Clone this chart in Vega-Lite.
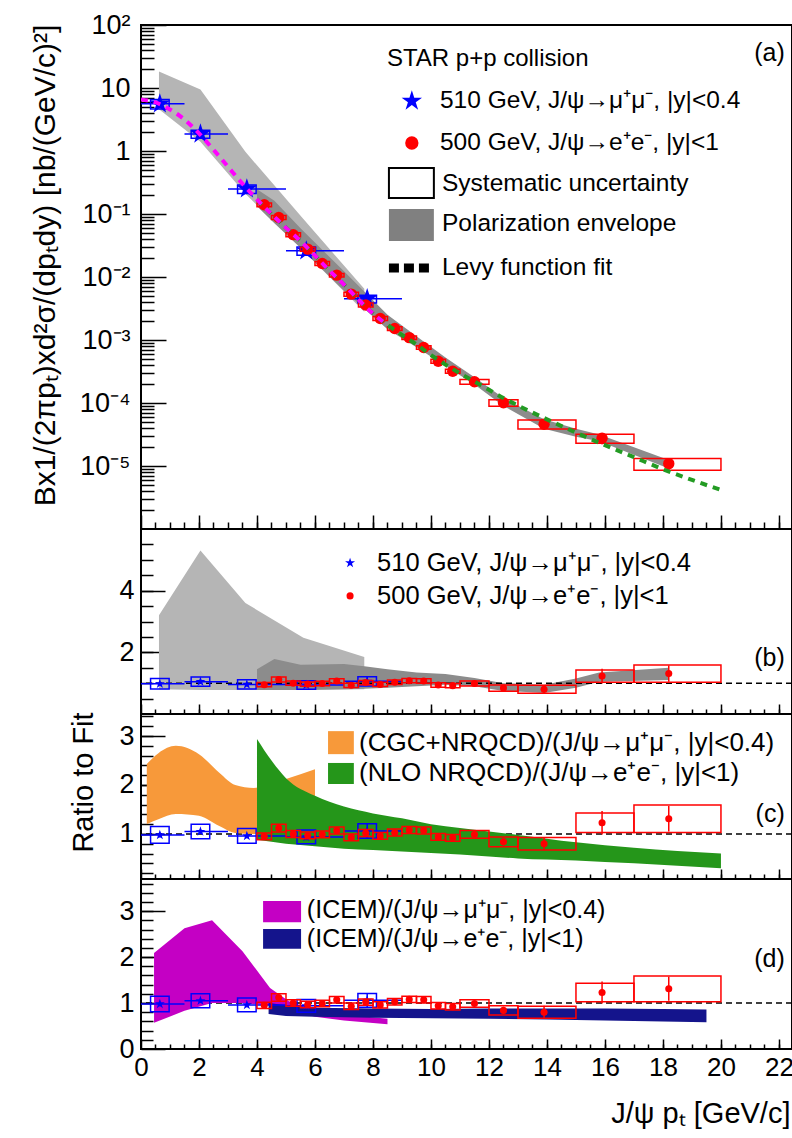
{
"$schema": "https://vega.github.io/schema/vega-lite/v6.json",
"background": "white",
"padding": {"left": 28, "top": 10, "right": 2, "bottom": 4},
"spacing": 0,
"bounds": "flush",
"config": {
  "view": {"stroke": "black", "strokeWidth": 2},
  "axis": {"grid": false, "domain": false, "labelFont": "Liberation Sans", "titleFont": "Liberation Sans", "labelColor": "black", "titleColor": "black", "tickColor": "black", "tickWidth": 1.5, "labelFlush": false, "labelOverlap": false, "labelBound": false, "titleFontWeight": "normal"},
  "text": {"font": "Liberation Sans", "color": "black"}
},
"datasets": {
  "blue": [
    {"pt":0.65,"xlo":0,"xhi":1.5,"bxlo":0.33,"bxhi":0.97,"y":5.6,"ylo":5.32,"yhi":5.88,"bylo":4.63,"byhi":6.57,"r":0.98,"rslo":0.93,"rshi":1.03,"brlo":0.81,"brhi":1.15},
    {"pt":2.05,"xlo":1.5,"xhi":3,"bxlo":1.73,"bxhi":2.37,"y":1.86,"ylo":1.77,"yhi":1.95,"bylo":1.59,"byhi":2.13,"r":1.05,"rslo":1.0,"rshi":1.1,"brlo":0.9,"brhi":1.2},
    {"pt":3.65,"xlo":3,"xhi":5,"bxlo":3.33,"bxhi":3.97,"y":0.25,"ylo":0.237,"yhi":0.263,"bylo":0.211,"byhi":0.289,"r":0.96,"rslo":0.91,"rshi":1.01,"brlo":0.81,"brhi":1.11},
    {"pt":5.7,"xlo":5,"xhi":7,"bxlo":5.38,"bxhi":6.02,"y":0.026,"ylo":0.0241,"yhi":0.0279,"bylo":0.0221,"byhi":0.0299,"r":0.94,"rslo":0.87,"rshi":1.01,"brlo":0.8,"brhi":1.08},
    {"pt":7.8,"xlo":7,"xhi":9,"bxlo":7.48,"bxhi":8.12,"y":0.0045,"ylo":0.00387,"yhi":0.00513,"bylo":0.00386,"byhi":0.00514,"r":1.06,"rslo":0.91,"rshi":1.21,"brlo":0.91,"brhi":1.21}
  ],
  "red": [
    {"pt":4.25,"bxlo":4.0,"bxhi":4.5,"y":0.14,"ylo":0.134,"yhi":0.146,"bylo":0.130,"byhi":0.150,"r":0.95,"rslo":0.91,"rshi":0.99,"brlo":0.88,"brhi":1.02},
    {"pt":4.75,"bxlo":4.5,"bxhi":5.0,"y":0.088,"ylo":0.0848,"yhi":0.0912,"bylo":0.0817,"byhi":0.0943,"r":1.12,"rslo":1.08,"rshi":1.16,"brlo":1.04,"brhi":1.2},
    {"pt":5.25,"bxlo":5.0,"bxhi":5.5,"y":0.047,"ylo":0.0451,"yhi":0.0489,"bylo":0.0437,"byhi":0.0503,"r":1.0,"rslo":0.96,"rshi":1.04,"brlo":0.93,"brhi":1.07},
    {"pt":5.75,"bxlo":5.5,"bxhi":6.0,"y":0.0277,"ylo":0.0266,"yhi":0.0288,"bylo":0.0257,"byhi":0.0297,"r":0.97,"rslo":0.93,"rshi":1.01,"brlo":0.9,"brhi":1.04},
    {"pt":6.25,"bxlo":6.0,"bxhi":6.5,"y":0.0164,"ylo":0.0157,"yhi":0.0171,"bylo":0.0152,"byhi":0.0176,"r":0.99,"rslo":0.95,"rshi":1.03,"brlo":0.92,"brhi":1.06},
    {"pt":6.75,"bxlo":6.5,"bxhi":7.0,"y":0.0107,"ylo":0.0103,"yhi":0.0111,"bylo":0.0100,"byhi":0.0114,"r":1.07,"rslo":1.03,"rshi":1.11,"brlo":1.0,"brhi":1.14},
    {"pt":7.25,"bxlo":7.0,"bxhi":7.5,"y":0.00535,"ylo":0.00512,"yhi":0.00558,"bylo":0.00495,"byhi":0.00575,"r":0.93,"rslo":0.89,"rshi":0.97,"brlo":0.86,"brhi":1.0},
    {"pt":7.75,"bxlo":7.5,"bxhi":8.0,"y":0.0036,"ylo":0.00346,"yhi":0.00374,"bylo":0.00335,"byhi":0.00385,"r":1.02,"rslo":0.98,"rshi":1.06,"brlo":0.95,"brhi":1.09},
    {"pt":8.25,"bxlo":8.0,"bxhi":8.5,"y":0.0022,"ylo":0.00211,"yhi":0.00229,"bylo":0.00204,"byhi":0.00236,"r":0.96,"rslo":0.92,"rshi":1.0,"brlo":0.89,"brhi":1.03},
    {"pt":8.75,"bxlo":8.5,"bxhi":9.0,"y":0.00152,"ylo":0.00146,"yhi":0.00158,"bylo":0.00142,"byhi":0.00162,"r":1.03,"rslo":0.99,"rshi":1.07,"brlo":0.96,"brhi":1.1},
    {"pt":9.25,"bxlo":9.0,"bxhi":9.5,"y":0.00109,"ylo":0.00105,"yhi":0.00113,"bylo":0.00102,"byhi":0.00116,"r":1.08,"rslo":1.04,"rshi":1.12,"brlo":1.01,"brhi":1.15},
    {"pt":9.75,"bxlo":9.5,"bxhi":10.0,"y":0.00076,"ylo":0.000724,"yhi":0.000796,"bylo":0.000711,"byhi":0.000809,"r":1.07,"rslo":1.02,"rshi":1.12,"brlo":1.0,"brhi":1.14},
    {"pt":10.25,"bxlo":10.0,"bxhi":10.5,"y":0.00046,"ylo":0.000436,"yhi":0.000484,"bylo":0.000426,"byhi":0.000494,"r":0.94,"rslo":0.89,"rshi":0.99,"brlo":0.87,"brhi":1.01},
    {"pt":10.75,"bxlo":10.5,"bxhi":11.0,"y":0.00032,"ylo":0.000296,"yhi":0.000344,"bylo":0.000296,"byhi":0.000344,"r":0.92,"rslo":0.85,"rshi":0.99,"brlo":0.85,"brhi":0.99},
    {"pt":11.5,"bxlo":11.0,"bxhi":12.0,"y":0.000217,"ylo":0.000204,"yhi":0.00023,"bylo":0.000199,"byhi":0.000235,"r":0.99,"rslo":0.93,"rshi":1.05,"brlo":0.91,"brhi":1.07},
    {"pt":12.5,"bxlo":12.0,"bxhi":13.0,"y":0.000101,"ylo":0.0000914,"yhi":0.0001106,"bylo":0.000089,"byhi":0.000113,"r":0.84,"rslo":0.76,"rshi":0.92,"brlo":0.74,"brhi":0.94},
    {"pt":13.9,"bxlo":13.0,"bxhi":15.0,"y":0.000046,"ylo":0.000038,"yhi":0.000054,"bylo":0.0000385,"byhi":0.0000535,"r":0.8,"rslo":0.66,"rshi":0.94,"brlo":0.67,"brhi":0.93},
    {"pt":15.9,"bxlo":15.0,"bxhi":17.0,"y":0.0000275,"ylo":0.0000221,"yhi":0.0000329,"bylo":0.000023,"byhi":0.000032,"r":1.23,"rslo":0.99,"rshi":1.47,"brlo":1.03,"brhi":1.43},
    {"pt":18.2,"bxlo":17.0,"bxhi":20.0,"y":0.0000109,"ylo":0.0000087,"yhi":0.0000131,"bylo":0.0000086,"byhi":0.0000132,"r":1.31,"rslo":1.05,"rshi":1.57,"brlo":1.03,"brhi":1.59}
  ],
  "fitmu": [
    {"pt":0,"v":6.6},{"pt":0.5,"v":5.89},{"pt":1,"v":4.57},{"pt":1.5,"v":3.16},{"pt":2,"v":1.91},{"pt":2.5,"v":1.05},{"pt":3,"v":0.562},{"pt":3.5,"v":0.302},{"pt":4,"v":0.17},{"pt":4.5,"v":0.1},{"pt":5,"v":0.0603},{"pt":5.5,"v":0.0372},{"pt":6,"v":0.0219},{"pt":6.5,"v":0.0126},{"pt":7,"v":0.00759},{"pt":7.5,"v":0.00437},{"pt":8,"v":0.00263},{"pt":8.5,"v":0.00174}
  ],
  "fitee": [
    {"pt":4,"v":0.17},{"pt":4.5,"v":0.1},{"pt":5,"v":0.0603},{"pt":5.5,"v":0.0372},{"pt":6,"v":0.0219},{"pt":6.5,"v":0.0126},{"pt":7,"v":0.00759},{"pt":7.5,"v":0.00437},{"pt":8,"v":0.00263},{"pt":8.5,"v":0.00174},{"pt":9,"v":0.0012},{"pt":9.5,"v":0.000851},{"pt":10,"v":0.000575},{"pt":10.5,"v":0.000407},{"pt":11,"v":0.000295},{"pt":11.5,"v":0.000219},{"pt":12,"v":0.000162},{"pt":12.5,"v":0.00012},{"pt":13,"v":0.0000912},{"pt":14,"v":0.000055},{"pt":15,"v":0.0000339},{"pt":16,"v":0.0000214},{"pt":17,"v":0.0000138},{"pt":18,"v":0.0000089},{"pt":19,"v":0.000006},{"pt":20,"v":0.00000417}
  ],
  "envmu": [
    {"pt":0.62,"lo":4.6,"hi":18.2},{"pt":2.05,"lo":1.4,"hi":9.5},{"pt":3.6,"lo":0.21,"hi":0.97},{"pt":5.6,"lo":0.026,"hi":0.083},{"pt":7.7,"lo":0.0028,"hi":0.0065}
  ],
  "envee": [
    {"pt":4.0,"lo":0.133,"hi":0.247},{"pt":4.6,"lo":0.0711,"hi":0.162},{"pt":5.5,"lo":0.029,"hi":0.0595},{"pt":7.0,"lo":0.00607,"hi":0.0123},{"pt":7.7,"lo":0.00312,"hi":0.00589},{"pt":8.5,"lo":0.00148,"hi":0.00252},{"pt":9.5,"lo":0.000766,"hi":0.00115},{"pt":10.5,"lo":0.000387,"hi":0.000529},{"pt":11.5,"lo":0.000197,"hi":0.000256},{"pt":12.5,"lo":0.00009,"hi":0.00012},{"pt":13.9,"lo":0.000039,"hi":0.000055},{"pt":15.0,"lo":0.000029,"hi":0.000039},{"pt":15.8,"lo":0.0000246,"hi":0.0000316},{"pt":18.2,"lo":0.0000091,"hi":0.0000125}
  ],
  "renvmu": [
    {"pt":0.62,"lo":0.8,"hi":3.2},{"pt":2.05,"lo":0.78,"hi":5.3},{"pt":3.6,"lo":0.78,"hi":3.6},{"pt":5.6,"lo":0.78,"hi":2.47},{"pt":7.7,"lo":0.8,"hi":1.85}
  ],
  "renvee": [
    {"pt":4.0,"lo":0.78,"hi":1.45},{"pt":4.6,"lo":0.78,"hi":1.78},{"pt":5.5,"lo":0.78,"hi":1.6},{"pt":7.0,"lo":0.8,"hi":1.62},{"pt":7.7,"lo":0.82,"hi":1.55},{"pt":8.5,"lo":0.85,"hi":1.45},{"pt":9.5,"lo":0.9,"hi":1.35},{"pt":10.5,"lo":0.95,"hi":1.3},{"pt":11.5,"lo":0.9,"hi":1.17},{"pt":12.5,"lo":0.75,"hi":1.0},{"pt":13.9,"lo":0.68,"hi":0.95},{"pt":15.0,"lo":0.85,"hi":1.15},{"pt":15.8,"lo":1.05,"hi":1.35},{"pt":18.2,"lo":1.1,"hi":1.5}
  ],
  "cgc": [
    {"pt":0.2,"lo":1.2,"hi":2.43},{"pt":0.6,"lo":1.3,"hi":2.65},{"pt":1.2,"lo":1.41,"hi":2.8},{"pt":2.0,"lo":1.37,"hi":2.63},{"pt":2.7,"lo":1.16,"hi":2.25},{"pt":3.25,"lo":1.02,"hi":2.0},{"pt":3.9,"lo":1.0,"hi":1.94},{"pt":5.0,"lo":1.05,"hi":2.12},{"pt":6.0,"lo":1.2,"hi":2.32}
  ],
  "nlo": [
    {"pt":4.0,"lo":0.88,"hi":2.94},{"pt":4.5,"lo":0.84,"hi":2.5},{"pt":5,"lo":0.8,"hi":2.14},{"pt":6,"lo":0.75,"hi":1.78},{"pt":7,"lo":0.7,"hi":1.56},{"pt":8,"lo":0.67,"hi":1.42},{"pt":9,"lo":0.64,"hi":1.32},{"pt":10,"lo":0.61,"hi":1.2},{"pt":11,"lo":0.58,"hi":1.12},{"pt":12,"lo":0.54,"hi":1.05},{"pt":13,"lo":0.5,"hi":0.98},{"pt":15,"lo":0.46,"hi":0.83},{"pt":17,"lo":0.4,"hi":0.72},{"pt":20,"lo":0.3,"hi":0.6}
  ],
  "icemmu": [
    {"pt":0.45,"lo":0.57,"hi":2.09},{"pt":1.5,"lo":0.83,"hi":2.63},{"pt":2.45,"lo":1.0,"hi":2.8},{"pt":3.5,"lo":1.0,"hi":2.13},{"pt":4.45,"lo":0.95,"hi":1.33},{"pt":5.1,"lo":0.85,"hi":1.04},{"pt":6.0,"lo":0.7,"hi":0.85},{"pt":7.0,"lo":0.62,"hi":0.75},{"pt":8.5,"lo":0.54,"hi":0.66}
  ],
  "icemee": [
    {"pt":4.4,"lo":0.76,"hi":1.0},{"pt":5.0,"lo":0.72,"hi":0.95},{"pt":6.0,"lo":0.7,"hi":0.9},{"pt":8.0,"lo":0.68,"hi":0.88},{"pt":10.0,"lo":0.67,"hi":0.87},{"pt":12.0,"lo":0.66,"hi":0.88},{"pt":14.0,"lo":0.64,"hi":0.88},{"pt":16.0,"lo":0.62,"hi":0.88},{"pt":18.0,"lo":0.6,"hi":0.87},{"pt":19.5,"lo":0.58,"hi":0.86}
  ]
},
"vconcat": [
{
  "width": 651, "height": 504,
  "resolve": {"axis": {"x": "independent", "y": "independent"}},
  "layer": [
    {"data": {"name": "envmu"}, "mark": {"type": "area", "color": "#b5b5b5", "clip": true},
     "encoding": {
       "x": {"field": "pt", "type": "quantitative", "scale": {"domain": [0, 22.45], "nice": false, "zero": false},
             "axis": {"orient": "bottom", "values": [0,2,4,6,8,10,12,14,16,18,20,22], "labels": false, "tickSize": -14, "title": null}},
       "y": {"field": "lo", "type": "quantitative", "scale": {"type": "log", "domain": [0.000001, 100], "nice": false},
             "axis": {"orient": "left", "values": [0.00001,0.0001,0.001,0.01,0.1,1,10,100],
                      "labelExpr": "['10⁻⁵','10⁻⁴','10⁻³','10⁻²','10⁻¹','1','10','10²'][round(log(datum.value)/LN10)+5]",
                      "tickSize": -25, "labelPadding": 36, "labelFontSize": 27,
                      "title": "Bx1/(2πpₜ)xd²σ/(dpₜdy) [nb/(GeV/c)²]", "titleFontSize": 30, "titleX": -87, "titleY": 240,
                      "titleAlign": "center", "titleBaseline": "alphabetic", "titleAngle": -90}},
       "y2": {"field": "hi"}}},
    {"data": {"name": "envee"}, "mark": {"type": "area", "color": "#8c8c8c", "clip": true},
     "encoding": {
       "x": {"field": "pt", "type": "quantitative", "scale": {"domain": [0, 22.45], "nice": false, "zero": false},
             "axis": {"orient": "bottom", "values": [0.5,1,1.5,2,2.5,3,3.5,4,4.5,5,5.5,6,6.5,7,7.5,8,8.5,9,9.5,10,10.5,11,11.5,12,12.5,13,13.5,14,14.5,15,15.5,16,16.5,17,17.5,18,18.5,19,19.5,20,20.5,21,21.5,22], "labels": false, "tickSize": -7, "title": null}},
       "y": {"field": "lo", "type": "quantitative", "scale": {"type": "log", "domain": [0.000001, 100], "nice": false},
             "axis": {"orient": "left", "values": [2e-6,3e-6,4e-6,5e-6,6e-6,7e-6,8e-6,9e-6,2e-5,3e-5,4e-5,5e-5,6e-5,7e-5,8e-5,9e-5,0.0002,0.0003,0.0004,0.0005,0.0006,0.0007,0.0008,0.0009,0.002,0.003,0.004,0.005,0.006,0.007,0.008,0.009,0.02,0.03,0.04,0.05,0.06,0.07,0.08,0.09,0.2,0.3,0.4,0.5,0.6,0.7,0.8,0.9,2,3,4,5,6,7,8,9,20,30,40,50,60,70,80,90], "labels": false, "tickSize": -13, "title": null}},
       "y2": {"field": "hi"}}},
    {"data": {"name": "blue"}, "mark": {"type": "rect", "fillOpacity": 0, "stroke": "#0000ff", "strokeWidth": 1.5},
     "encoding": {
       "x": {"field": "bxlo", "type": "quantitative", "scale": {"domain": [0, 22.45], "nice": false, "zero": false}, "axis": null},
       "x2": {"field": "bxhi"},
       "y": {"field": "bylo", "type": "quantitative", "scale": {"type": "log", "domain": [0.000001, 100], "nice": false}, "axis": null},
       "y2": {"field": "byhi"}}},
    {"data": {"name": "blue"}, "mark": {"type": "rule", "color": "#0000ff", "strokeWidth": 1.5},
     "encoding": {
       "x": {"field": "xlo", "type": "quantitative", "scale": {"domain": [0, 22.45], "nice": false, "zero": false}, "axis": null},
       "x2": {"field": "xhi"},
       "y": {"field": "y", "type": "quantitative", "scale": {"type": "log", "domain": [0.000001, 100], "nice": false}, "axis": null}}},
    {"data": {"name": "blue"}, "mark": {"type": "rule", "color": "#0000ff", "strokeWidth": 1.5},
     "encoding": {
       "x": {"field": "pt", "type": "quantitative", "scale": {"domain": [0, 22.45], "nice": false, "zero": false}, "axis": null},
       "y": {"field": "ylo", "type": "quantitative", "scale": {"type": "log", "domain": [0.000001, 100], "nice": false}, "axis": null},
       "y2": {"field": "yhi"}}},
    {"data": {"name": "blue"}, "mark": {"type": "point", "shape": "M0,-1L0.2245,-0.309L0.951,-0.309L0.363,0.118L0.588,0.809L0,0.382L-0.588,0.809L-0.363,0.118L-0.951,-0.309L-0.2245,-0.309Z", "filled": true, "color": "#0000ff", "size": 460, "opacity": 1},
     "encoding": {
       "x": {"field": "pt", "type": "quantitative", "scale": {"domain": [0, 22.45], "nice": false, "zero": false}, "axis": null},
       "y": {"field": "y", "type": "quantitative", "scale": {"type": "log", "domain": [0.000001, 100], "nice": false}, "axis": null}}},
    {"data": {"name": "red"}, "mark": {"type": "rect", "fillOpacity": 0, "stroke": "#ff0000", "strokeWidth": 1.5},
     "encoding": {
       "x": {"field": "bxlo", "type": "quantitative", "scale": {"domain": [0, 22.45], "nice": false, "zero": false}, "axis": null},
       "x2": {"field": "bxhi"},
       "y": {"field": "bylo", "type": "quantitative", "scale": {"type": "log", "domain": [0.000001, 100], "nice": false}, "axis": null},
       "y2": {"field": "byhi"}}},
    {"data": {"name": "red"}, "mark": {"type": "rule", "color": "#ff0000", "strokeWidth": 2},
     "encoding": {
       "x": {"field": "pt", "type": "quantitative", "scale": {"domain": [0, 22.45], "nice": false, "zero": false}, "axis": null},
       "y": {"field": "ylo", "type": "quantitative", "scale": {"type": "log", "domain": [0.000001, 100], "nice": false}, "axis": null},
       "y2": {"field": "yhi"}}},
    {"data": {"name": "red"}, "mark": {"type": "circle", "color": "#ff0000", "size": 130, "opacity": 1},
     "encoding": {
       "x": {"field": "pt", "type": "quantitative", "scale": {"domain": [0, 22.45], "nice": false, "zero": false}, "axis": null},
       "y": {"field": "y", "type": "quantitative", "scale": {"type": "log", "domain": [0.000001, 100], "nice": false}, "axis": null}}},
    {"data": {"name": "fitee"}, "mark": {"type": "line", "color": "#239b23", "strokeWidth": 4, "strokeDash": [7, 6], "interpolate": "monotone", "clip": true},
     "encoding": {
       "x": {"field": "pt", "type": "quantitative", "scale": {"domain": [0, 22.45], "nice": false, "zero": false}, "axis": null},
       "y": {"field": "v", "type": "quantitative", "scale": {"type": "log", "domain": [0.000001, 100], "nice": false}, "axis": null}}},
    {"data": {"name": "fitmu"}, "mark": {"type": "line", "color": "#ff00ff", "strokeWidth": 4, "strokeDash": [7, 6], "interpolate": "monotone", "clip": true},
     "encoding": {
       "x": {"field": "pt", "type": "quantitative", "scale": {"domain": [0, 22.45], "nice": false, "zero": false}, "axis": null},
       "y": {"field": "v", "type": "quantitative", "scale": {"type": "log", "domain": [0.000001, 100], "nice": false}, "axis": null}}},
    {"data": {"values": [{"t": "STAR p+p collision"}]}, "mark": {"type": "text", "align": "left", "baseline": "middle", "fontSize": 24},
     "encoding": {"x": {"datum": 8.48, "type": "quantitative", "scale": {"domain": [0, 22.45], "nice": false, "zero": false}, "axis": null},
                  "y": {"datum": 28.9, "type": "quantitative", "scale": {"type": "log", "domain": [0.000001, 100], "nice": false}, "axis": null},
                  "text": {"field": "t"}}},
    {"data": {"values": [{"t": "(a)"}]}, "mark": {"type": "text", "align": "right", "baseline": "middle", "fontSize": 25},
     "encoding": {"x": {"datum": 22.2, "type": "quantitative", "scale": {"domain": [0, 22.45], "nice": false, "zero": false}, "axis": null},
                  "y": {"datum": 36, "type": "quantitative", "scale": {"type": "log", "domain": [0.000001, 100], "nice": false}, "axis": null},
                  "text": {"field": "t"}}},
    {"data": {"values": [{"t": "star"}]}, "mark": {"type": "point", "shape": "M0,-1L0.2245,-0.309L0.951,-0.309L0.363,0.118L0.588,0.809L0,0.382L-0.588,0.809L-0.363,0.118L-0.951,-0.309L-0.2245,-0.309Z", "filled": true, "color": "#0000ff", "size": 460, "opacity": 1},
     "encoding": {"x": {"datum": 9.34, "type": "quantitative", "scale": {"domain": [0, 22.45], "nice": false, "zero": false}, "axis": null},
                  "y": {"datum": 6.22, "type": "quantitative", "scale": {"type": "log", "domain": [0.000001, 100], "nice": false}, "axis": null}}},
    {"data": {"values": [{"t": "510 GeV, J/ψ→μ⁺μ⁻, |y|<0.4"}]}, "mark": {"type": "text", "align": "left", "baseline": "middle", "fontSize": 24.5},
     "encoding": {"x": {"datum": 10.31, "type": "quantitative", "scale": {"domain": [0, 22.45], "nice": false, "zero": false}, "axis": null},
                  "y": {"datum": 6.22, "type": "quantitative", "scale": {"type": "log", "domain": [0.000001, 100], "nice": false}, "axis": null},
                  "text": {"field": "t"}}},
    {"data": {"values": [{"t": "dot"}]}, "mark": {"type": "circle", "color": "#ff0000", "size": 177, "opacity": 1},
     "encoding": {"x": {"datum": 9.34, "type": "quantitative", "scale": {"domain": [0, 22.45], "nice": false, "zero": false}, "axis": null},
                  "y": {"datum": 1.34, "type": "quantitative", "scale": {"type": "log", "domain": [0.000001, 100], "nice": false}, "axis": null}}},
    {"data": {"values": [{"t": "500 GeV, J/ψ→e⁺e⁻, |y|<1"}]}, "mark": {"type": "text", "align": "left", "baseline": "middle", "fontSize": 24.5},
     "encoding": {"x": {"datum": 10.31, "type": "quantitative", "scale": {"domain": [0, 22.45], "nice": false, "zero": false}, "axis": null},
                  "y": {"datum": 1.34, "type": "quantitative", "scale": {"type": "log", "domain": [0.000001, 100], "nice": false}, "axis": null},
                  "text": {"field": "t"}}},
    {"data": {"values": [{"t": "box"}]}, "mark": {"type": "rect", "fillOpacity": 0, "stroke": "black", "strokeWidth": 2},
     "encoding": {"x": {"datum": 8.55, "type": "quantitative", "scale": {"domain": [0, 22.45], "nice": false, "zero": false}, "axis": null},
                  "x2": {"datum": 10.1},
                  "y": {"datum": 0.179, "type": "quantitative", "scale": {"type": "log", "domain": [0.000001, 100], "nice": false}, "axis": null},
                  "y2": {"datum": 0.537}}},
    {"data": {"values": [{"t": "Systematic uncertainty"}]}, "mark": {"type": "text", "align": "left", "baseline": "middle", "fontSize": 24.5},
     "encoding": {"x": {"datum": 10.38, "type": "quantitative", "scale": {"domain": [0, 22.45], "nice": false, "zero": false}, "axis": null},
                  "y": {"datum": 0.299, "type": "quantitative", "scale": {"type": "log", "domain": [0.000001, 100], "nice": false}, "axis": null},
                  "text": {"field": "t"}}},
    {"data": {"values": [{"t": "grey"}]}, "mark": {"type": "rect", "color": "#808080"},
     "encoding": {"x": {"datum": 8.55, "type": "quantitative", "scale": {"domain": [0, 22.45], "nice": false, "zero": false}, "axis": null},
                  "x2": {"datum": 10.1},
                  "y": {"datum": 0.0373, "type": "quantitative", "scale": {"type": "log", "domain": [0.000001, 100], "nice": false}, "axis": null},
                  "y2": {"datum": 0.12}}},
    {"data": {"values": [{"t": "Polarization envelope"}]}, "mark": {"type": "text", "align": "left", "baseline": "middle", "fontSize": 24.5},
     "encoding": {"x": {"datum": 10.38, "type": "quantitative", "scale": {"domain": [0, 22.45], "nice": false, "zero": false}, "axis": null},
                  "y": {"datum": 0.0694, "type": "quantitative", "scale": {"type": "log", "domain": [0.000001, 100], "nice": false}, "axis": null},
                  "text": {"field": "t"}}},
    {"data": {"values": [{"t": "dash"}]}, "mark": {"type": "rule", "color": "black", "strokeWidth": 9, "strokeDash": [10, 5], "strokeCap": "butt"},
     "encoding": {"x": {"datum": 8.55, "type": "quantitative", "scale": {"domain": [0, 22.45], "nice": false, "zero": false}, "axis": null},
                  "x2": {"datum": 9.97},
                  "y": {"datum": 0.0139, "type": "quantitative", "scale": {"type": "log", "domain": [0.000001, 100], "nice": false}, "axis": null}}},
    {"data": {"values": [{"t": "Levy function fit"}]}, "mark": {"type": "text", "align": "left", "baseline": "middle", "fontSize": 24.5},
     "encoding": {"x": {"datum": 10.38, "type": "quantitative", "scale": {"domain": [0, 22.45], "nice": false, "zero": false}, "axis": null},
                  "y": {"datum": 0.0139, "type": "quantitative", "scale": {"type": "log", "domain": [0.000001, 100], "nice": false}, "axis": null},
                  "text": {"field": "t"}}}
  ]
},
{
  "width": 651, "height": 185,
  "resolve": {"axis": {"x": "independent", "y": "independent"}},
  "layer": [
    {"data": {"name": "renvmu"}, "mark": {"type": "area", "color": "#b5b5b5", "clip": true},
     "encoding": {
       "x": {"field": "pt", "type": "quantitative", "scale": {"domain": [0, 22.45], "nice": false, "zero": false},
             "axis": {"orient": "bottom", "values": [0,2,4,6,8,10,12,14,16,18,20,22], "labels": false, "tickSize": -10, "title": null}},
       "y": {"field": "lo", "type": "quantitative", "scale": {"domain": [0, 6], "nice": false, "zero": false},
             "axis": {"orient": "left", "values": [2, 4], "tickSize": -24, "labelPadding": 31, "labelFontSize": 27, "title": null}},
       "y2": {"field": "hi"}}},
    {"data": {"name": "renvee"}, "mark": {"type": "area", "color": "#8c8c8c", "clip": true},
     "encoding": {
       "x": {"field": "pt", "type": "quantitative", "scale": {"domain": [0, 22.45], "nice": false, "zero": false},
             "axis": {"orient": "bottom", "values": [0.5,1,1.5,2,2.5,3,3.5,4,4.5,5,5.5,6,6.5,7,7.5,8,8.5,9,9.5,10,10.5,11,11.5,12,12.5,13,13.5,14,14.5,15,15.5,16,16.5,17,17.5,18,18.5,19,19.5,20,20.5,21,21.5,22], "labels": false, "tickSize": -5, "title": null}},
       "y": {"field": "lo", "type": "quantitative", "scale": {"domain": [0, 6], "nice": false, "zero": false},
             "axis": {"orient": "left", "values": [0.5,1,1.5,2,2.5,3,3.5,4,4.5,5,5.5], "labels": false, "tickSize": -12, "title": null}},
       "y2": {"field": "hi"}}},
    {"data": {"values": [{"t": "one"}]}, "mark": {"type": "rule", "color": "black", "strokeWidth": 1.5, "strokeDash": [6, 4]},
     "encoding": {"y": {"datum": 1, "type": "quantitative", "scale": {"domain": [0, 6], "nice": false, "zero": false}, "axis": null}}},
    {"data": {"name": "blue"}, "mark": {"type": "rect", "fillOpacity": 0, "stroke": "#0000ff", "strokeWidth": 1.5},
     "encoding": {
       "x": {"field": "bxlo", "type": "quantitative", "scale": {"domain": [0, 22.45], "nice": false, "zero": false}, "axis": null},
       "x2": {"field": "bxhi"},
       "y": {"field": "brlo", "type": "quantitative", "scale": {"domain": [0, 6], "nice": false, "zero": false}, "axis": null},
       "y2": {"field": "brhi"}}},
    {"data": {"name": "blue"}, "mark": {"type": "rule", "color": "#0000ff", "strokeWidth": 1.5},
     "encoding": {
       "x": {"field": "xlo", "type": "quantitative", "scale": {"domain": [0, 22.45], "nice": false, "zero": false}, "axis": null},
       "x2": {"field": "xhi"},
       "y": {"field": "r", "type": "quantitative", "scale": {"domain": [0, 6], "nice": false, "zero": false}, "axis": null}}},
    {"data": {"name": "blue"}, "mark": {"type": "rule", "color": "#0000ff", "strokeWidth": 1.5},
     "encoding": {
       "x": {"field": "pt", "type": "quantitative", "scale": {"domain": [0, 22.45], "nice": false, "zero": false}, "axis": null},
       "y": {"field": "rslo", "type": "quantitative", "scale": {"domain": [0, 6], "nice": false, "zero": false}, "axis": null},
       "y2": {"field": "rshi"}}},
    {"data": {"name": "blue"}, "mark": {"type": "point", "shape": "M0,-1L0.2245,-0.309L0.951,-0.309L0.363,0.118L0.588,0.809L0,0.382L-0.588,0.809L-0.363,0.118L-0.951,-0.309L-0.2245,-0.309Z", "filled": true, "color": "#0000ff", "size": 110, "opacity": 1},
     "encoding": {
       "x": {"field": "pt", "type": "quantitative", "scale": {"domain": [0, 22.45], "nice": false, "zero": false}, "axis": null},
       "y": {"field": "r", "type": "quantitative", "scale": {"domain": [0, 6], "nice": false, "zero": false}, "axis": null}}},
    {"data": {"name": "red"}, "mark": {"type": "rect", "fillOpacity": 0, "stroke": "#ff0000", "strokeWidth": 1.5},
     "encoding": {
       "x": {"field": "bxlo", "type": "quantitative", "scale": {"domain": [0, 22.45], "nice": false, "zero": false}, "axis": null},
       "x2": {"field": "bxhi"},
       "y": {"field": "brlo", "type": "quantitative", "scale": {"domain": [0, 6], "nice": false, "zero": false}, "axis": null},
       "y2": {"field": "brhi"}}},
    {"data": {"name": "red"}, "mark": {"type": "rule", "color": "#ff0000", "strokeWidth": 1.5},
     "encoding": {
       "x": {"field": "pt", "type": "quantitative", "scale": {"domain": [0, 22.45], "nice": false, "zero": false}, "axis": null},
       "y": {"field": "rslo", "type": "quantitative", "scale": {"domain": [0, 6], "nice": false, "zero": false}, "axis": null},
       "y2": {"field": "rshi"}}},
    {"data": {"name": "red"}, "mark": {"type": "circle", "color": "#ff0000", "size": 50, "opacity": 1},
     "encoding": {
       "x": {"field": "pt", "type": "quantitative", "scale": {"domain": [0, 22.45], "nice": false, "zero": false}, "axis": null},
       "y": {"field": "r", "type": "quantitative", "scale": {"domain": [0, 6], "nice": false, "zero": false}, "axis": null}}},
    {"data": {"values": [{"t": "star"}]}, "mark": {"type": "point", "shape": "M0,-1L0.2245,-0.309L0.951,-0.309L0.363,0.118L0.588,0.809L0,0.382L-0.588,0.809L-0.363,0.118L-0.951,-0.309L-0.2245,-0.309Z", "filled": true, "color": "#0000ff", "size": 110, "opacity": 1},
     "encoding": {"x": {"datum": 7.21, "type": "quantitative", "scale": {"domain": [0, 22.45], "nice": false, "zero": false}, "axis": null},
                  "y": {"datum": 4.9, "type": "quantitative", "scale": {"domain": [0, 6], "nice": false, "zero": false}, "axis": null}}},
    {"data": {"values": [{"t": "510 GeV, J/ψ→μ⁺μ⁻, |y|<0.4"}]}, "mark": {"type": "text", "align": "left", "baseline": "middle", "fontSize": 25.5},
     "encoding": {"x": {"datum": 8.14, "type": "quantitative", "scale": {"domain": [0, 22.45], "nice": false, "zero": false}, "axis": null},
                  "y": {"datum": 4.9, "type": "quantitative", "scale": {"domain": [0, 6], "nice": false, "zero": false}, "axis": null},
                  "text": {"field": "t"}}},
    {"data": {"values": [{"t": "dot"}]}, "mark": {"type": "circle", "color": "#ff0000", "size": 50, "opacity": 1},
     "encoding": {"x": {"datum": 7.21, "type": "quantitative", "scale": {"domain": [0, 22.45], "nice": false, "zero": false}, "axis": null},
                  "y": {"datum": 3.83, "type": "quantitative", "scale": {"domain": [0, 6], "nice": false, "zero": false}, "axis": null}}},
    {"data": {"values": [{"t": "500 GeV, J/ψ→e⁺e⁻, |y|<1"}]}, "mark": {"type": "text", "align": "left", "baseline": "middle", "fontSize": 25.5},
     "encoding": {"x": {"datum": 8.14, "type": "quantitative", "scale": {"domain": [0, 22.45], "nice": false, "zero": false}, "axis": null},
                  "y": {"datum": 3.83, "type": "quantitative", "scale": {"domain": [0, 6], "nice": false, "zero": false}, "axis": null},
                  "text": {"field": "t"}}},
    {"data": {"values": [{"t": "(b)"}]}, "mark": {"type": "text", "align": "right", "baseline": "middle", "fontSize": 25},
     "encoding": {"x": {"datum": 22.2, "type": "quantitative", "scale": {"domain": [0, 22.45], "nice": false, "zero": false}, "axis": null},
                  "y": {"datum": 1.82, "type": "quantitative", "scale": {"domain": [0, 6], "nice": false, "zero": false}, "axis": null},
                  "text": {"field": "t"}}}
  ]
},
{
  "width": 651, "height": 165,
  "resolve": {"axis": {"x": "independent", "y": "independent"}},
  "layer": [
    {"data": {"values": [{"t": "one"}]}, "mark": {"type": "rule", "color": "black", "strokeWidth": 1.5, "strokeDash": [6, 4]},
     "encoding": {"y": {"datum": 1, "type": "quantitative", "scale": {"domain": [0.08, 3.45], "nice": false, "zero": false}, "axis": null}}},
    {"data": {"name": "cgc"}, "mark": {"type": "area", "color": "#f7993a", "interpolate": "monotone", "clip": true},
     "encoding": {
       "x": {"field": "pt", "type": "quantitative", "scale": {"domain": [0, 22.45], "nice": false, "zero": false},
             "axis": {"orient": "bottom", "values": [0,2,4,6,8,10,12,14,16,18,20,22], "labels": false, "tickSize": -10, "title": null}},
       "y": {"field": "lo", "type": "quantitative", "scale": {"domain": [0.08, 3.45], "nice": false, "zero": false},
             "axis": {"orient": "left", "values": [1, 2, 3], "tickSize": -24, "labelPadding": 31, "labelFontSize": 27,
                      "title": "Ratio to Fit", "titleFontSize": 29, "titleX": -49, "titleY": 68, "titleAlign": "center", "titleBaseline": "alphabetic", "titleAngle": -90}},
       "y2": {"field": "hi"}}},
    {"data": {"name": "nlo"}, "mark": {"type": "area", "color": "#25961a", "interpolate": "monotone", "clip": true},
     "encoding": {
       "x": {"field": "pt", "type": "quantitative", "scale": {"domain": [0, 22.45], "nice": false, "zero": false},
             "axis": {"orient": "bottom", "values": [0.5,1,1.5,2,2.5,3,3.5,4,4.5,5,5.5,6,6.5,7,7.5,8,8.5,9,9.5,10,10.5,11,11.5,12,12.5,13,13.5,14,14.5,15,15.5,16,16.5,17,17.5,18,18.5,19,19.5,20,20.5,21,21.5,22], "labels": false, "tickSize": -5, "title": null}},
       "y": {"field": "lo", "type": "quantitative", "scale": {"domain": [0.08, 3.45], "nice": false, "zero": false},
             "axis": {"orient": "left", "values": [0.2,0.4,0.6,0.8,1,1.2,1.4,1.6,1.8,2,2.2,2.4,2.6,2.8,3,3.2,3.4], "labels": false, "tickSize": -12, "title": null}},
       "y2": {"field": "hi"}}},
    {"data": {"name": "blue"}, "mark": {"type": "rect", "fillOpacity": 0, "stroke": "#0000ff", "strokeWidth": 1.5},
     "encoding": {
       "x": {"field": "bxlo", "type": "quantitative", "scale": {"domain": [0, 22.45], "nice": false, "zero": false}, "axis": null},
       "x2": {"field": "bxhi"},
       "y": {"field": "brlo", "type": "quantitative", "scale": {"domain": [0.08, 3.45], "nice": false, "zero": false}, "axis": null},
       "y2": {"field": "brhi"}}},
    {"data": {"name": "blue"}, "mark": {"type": "rule", "color": "#0000ff", "strokeWidth": 1.5},
     "encoding": {
       "x": {"field": "xlo", "type": "quantitative", "scale": {"domain": [0, 22.45], "nice": false, "zero": false}, "axis": null},
       "x2": {"field": "xhi"},
       "y": {"field": "r", "type": "quantitative", "scale": {"domain": [0.08, 3.45], "nice": false, "zero": false}, "axis": null}}},
    {"data": {"name": "blue"}, "mark": {"type": "rule", "color": "#0000ff", "strokeWidth": 1.5},
     "encoding": {
       "x": {"field": "pt", "type": "quantitative", "scale": {"domain": [0, 22.45], "nice": false, "zero": false}, "axis": null},
       "y": {"field": "rslo", "type": "quantitative", "scale": {"domain": [0.08, 3.45], "nice": false, "zero": false}, "axis": null},
       "y2": {"field": "rshi"}}},
    {"data": {"name": "blue"}, "mark": {"type": "point", "shape": "M0,-1L0.2245,-0.309L0.951,-0.309L0.363,0.118L0.588,0.809L0,0.382L-0.588,0.809L-0.363,0.118L-0.951,-0.309L-0.2245,-0.309Z", "filled": true, "color": "#0000ff", "size": 110, "opacity": 1},
     "encoding": {
       "x": {"field": "pt", "type": "quantitative", "scale": {"domain": [0, 22.45], "nice": false, "zero": false}, "axis": null},
       "y": {"field": "r", "type": "quantitative", "scale": {"domain": [0.08, 3.45], "nice": false, "zero": false}, "axis": null}}},
    {"data": {"name": "red"}, "mark": {"type": "rect", "fillOpacity": 0, "stroke": "#ff0000", "strokeWidth": 1.5},
     "encoding": {
       "x": {"field": "bxlo", "type": "quantitative", "scale": {"domain": [0, 22.45], "nice": false, "zero": false}, "axis": null},
       "x2": {"field": "bxhi"},
       "y": {"field": "brlo", "type": "quantitative", "scale": {"domain": [0.08, 3.45], "nice": false, "zero": false}, "axis": null},
       "y2": {"field": "brhi"}}},
    {"data": {"name": "red"}, "mark": {"type": "rule", "color": "#ff0000", "strokeWidth": 1.5},
     "encoding": {
       "x": {"field": "pt", "type": "quantitative", "scale": {"domain": [0, 22.45], "nice": false, "zero": false}, "axis": null},
       "y": {"field": "rslo", "type": "quantitative", "scale": {"domain": [0.08, 3.45], "nice": false, "zero": false}, "axis": null},
       "y2": {"field": "rshi"}}},
    {"data": {"name": "red"}, "mark": {"type": "circle", "color": "#ff0000", "size": 50, "opacity": 1},
     "encoding": {
       "x": {"field": "pt", "type": "quantitative", "scale": {"domain": [0, 22.45], "nice": false, "zero": false}, "axis": null},
       "y": {"field": "r", "type": "quantitative", "scale": {"domain": [0.08, 3.45], "nice": false, "zero": false}, "axis": null}}},
    {"data": {"values": [{"t": "o"}]}, "mark": {"type": "rect", "color": "#f7993a"},
     "encoding": {"x": {"datum": 6.45, "type": "quantitative", "scale": {"domain": [0, 22.45], "nice": false, "zero": false}, "axis": null},
                  "x2": {"datum": 7.34},
                  "y": {"datum": 2.63, "type": "quantitative", "scale": {"domain": [0.08, 3.45], "nice": false, "zero": false}, "axis": null},
                  "y2": {"datum": 3.1}}},
    {"data": {"values": [{"t": "(CGC+NRQCD)/(J/ψ→μ⁺μ⁻, |y|<0.4)"}]}, "mark": {"type": "text", "align": "left", "baseline": "middle", "fontSize": 26},
     "encoding": {"x": {"datum": 7.52, "type": "quantitative", "scale": {"domain": [0, 22.45], "nice": false, "zero": false}, "axis": null},
                  "y": {"datum": 2.86, "type": "quantitative", "scale": {"domain": [0.08, 3.45], "nice": false, "zero": false}, "axis": null},
                  "text": {"field": "t"}}},
    {"data": {"values": [{"t": "g"}]}, "mark": {"type": "rect", "color": "#25961a"},
     "encoding": {"x": {"datum": 6.45, "type": "quantitative", "scale": {"domain": [0, 22.45], "nice": false, "zero": false}, "axis": null},
                  "x2": {"datum": 7.34},
                  "y": {"datum": 2.02, "type": "quantitative", "scale": {"domain": [0.08, 3.45], "nice": false, "zero": false}, "axis": null},
                  "y2": {"datum": 2.45}}},
    {"data": {"values": [{"t": "(NLO NRQCD)/(J/ψ→e⁺e⁻, |y|<1)"}]}, "mark": {"type": "text", "align": "left", "baseline": "middle", "fontSize": 26},
     "encoding": {"x": {"datum": 7.52, "type": "quantitative", "scale": {"domain": [0, 22.45], "nice": false, "zero": false}, "axis": null},
                  "y": {"datum": 2.245, "type": "quantitative", "scale": {"domain": [0.08, 3.45], "nice": false, "zero": false}, "axis": null},
                  "text": {"field": "t"}}},
    {"data": {"values": [{"t": "(c)"}]}, "mark": {"type": "text", "align": "right", "baseline": "middle", "fontSize": 25},
     "encoding": {"x": {"datum": 22.2, "type": "quantitative", "scale": {"domain": [0, 22.45], "nice": false, "zero": false}, "axis": null},
                  "y": {"datum": 1.41, "type": "quantitative", "scale": {"domain": [0.08, 3.45], "nice": false, "zero": false}, "axis": null},
                  "text": {"field": "t"}}}
  ]
},
{
  "width": 651, "height": 170,
  "resolve": {"axis": {"x": "independent", "y": "independent"}},
  "layer": [
    {"data": {"values": [{"t": "one"}]}, "mark": {"type": "rule", "color": "black", "strokeWidth": 1.5, "strokeDash": [6, 4]},
     "encoding": {"y": {"datum": 1, "type": "quantitative", "scale": {"domain": [0, 3.7], "nice": false, "zero": false}, "axis": null}}},
    {"data": {"name": "icemmu"}, "mark": {"type": "area", "color": "#c400c4", "clip": true},
     "encoding": {
       "x": {"field": "pt", "type": "quantitative", "scale": {"domain": [0, 22.45], "nice": false, "zero": false},
             "axis": {"orient": "bottom", "values": [0,2,4,6,8,10,12,14,16,18,20,22], "labels": true, "labelFontSize": 26, "tickSize": -10, "labelPadding": 15,
                      "title": "J/ψ pₜ [GeV/c]", "titleFontSize": 29, "titleX": 649, "titleY": 50, "titleAlign": "right", "titleBaseline": "top", "titleAngle": 0}},
       "y": {"field": "lo", "type": "quantitative", "scale": {"domain": [0, 3.7], "nice": false, "zero": false},
             "axis": {"orient": "left", "values": [0, 1, 2, 3], "tickSize": -24, "labelPadding": 31, "labelFontSize": 27, "title": null}},
       "y2": {"field": "hi"}}},
    {"data": {"name": "icemee"}, "mark": {"type": "area", "color": "#14148c", "clip": true},
     "encoding": {
       "x": {"field": "pt", "type": "quantitative", "scale": {"domain": [0, 22.45], "nice": false, "zero": false},
             "axis": {"orient": "bottom", "values": [0.5,1,1.5,2,2.5,3,3.5,4,4.5,5,5.5,6,6.5,7,7.5,8,8.5,9,9.5,10,10.5,11,11.5,12,12.5,13,13.5,14,14.5,15,15.5,16,16.5,17,17.5,18,18.5,19,19.5,20,20.5,21,21.5,22], "labels": false, "tickSize": -5, "title": null}},
       "y": {"field": "lo", "type": "quantitative", "scale": {"domain": [0, 3.7], "nice": false, "zero": false},
             "axis": {"orient": "left", "values": [0.2,0.4,0.6,0.8,1,1.2,1.4,1.6,1.8,2,2.2,2.4,2.6,2.8,3,3.2,3.4,3.6], "labels": false, "tickSize": -12, "title": null}},
       "y2": {"field": "hi"}}},
    {"data": {"name": "blue"}, "mark": {"type": "rect", "fillOpacity": 0, "stroke": "#0000ff", "strokeWidth": 1.5},
     "encoding": {
       "x": {"field": "bxlo", "type": "quantitative", "scale": {"domain": [0, 22.45], "nice": false, "zero": false}, "axis": null},
       "x2": {"field": "bxhi"},
       "y": {"field": "brlo", "type": "quantitative", "scale": {"domain": [0, 3.7], "nice": false, "zero": false}, "axis": null},
       "y2": {"field": "brhi"}}},
    {"data": {"name": "blue"}, "mark": {"type": "rule", "color": "#0000ff", "strokeWidth": 1.5},
     "encoding": {
       "x": {"field": "xlo", "type": "quantitative", "scale": {"domain": [0, 22.45], "nice": false, "zero": false}, "axis": null},
       "x2": {"field": "xhi"},
       "y": {"field": "r", "type": "quantitative", "scale": {"domain": [0, 3.7], "nice": false, "zero": false}, "axis": null}}},
    {"data": {"name": "blue"}, "mark": {"type": "rule", "color": "#0000ff", "strokeWidth": 1.5},
     "encoding": {
       "x": {"field": "pt", "type": "quantitative", "scale": {"domain": [0, 22.45], "nice": false, "zero": false}, "axis": null},
       "y": {"field": "rslo", "type": "quantitative", "scale": {"domain": [0, 3.7], "nice": false, "zero": false}, "axis": null},
       "y2": {"field": "rshi"}}},
    {"data": {"name": "blue"}, "mark": {"type": "point", "shape": "M0,-1L0.2245,-0.309L0.951,-0.309L0.363,0.118L0.588,0.809L0,0.382L-0.588,0.809L-0.363,0.118L-0.951,-0.309L-0.2245,-0.309Z", "filled": true, "color": "#0000ff", "size": 110, "opacity": 1},
     "encoding": {
       "x": {"field": "pt", "type": "quantitative", "scale": {"domain": [0, 22.45], "nice": false, "zero": false}, "axis": null},
       "y": {"field": "r", "type": "quantitative", "scale": {"domain": [0, 3.7], "nice": false, "zero": false}, "axis": null}}},
    {"data": {"name": "red"}, "mark": {"type": "rect", "fillOpacity": 0, "stroke": "#ff0000", "strokeWidth": 1.5},
     "encoding": {
       "x": {"field": "bxlo", "type": "quantitative", "scale": {"domain": [0, 22.45], "nice": false, "zero": false}, "axis": null},
       "x2": {"field": "bxhi"},
       "y": {"field": "brlo", "type": "quantitative", "scale": {"domain": [0, 3.7], "nice": false, "zero": false}, "axis": null},
       "y2": {"field": "brhi"}}},
    {"data": {"name": "red"}, "mark": {"type": "rule", "color": "#ff0000", "strokeWidth": 1.5},
     "encoding": {
       "x": {"field": "pt", "type": "quantitative", "scale": {"domain": [0, 22.45], "nice": false, "zero": false}, "axis": null},
       "y": {"field": "rslo", "type": "quantitative", "scale": {"domain": [0, 3.7], "nice": false, "zero": false}, "axis": null},
       "y2": {"field": "rshi"}}},
    {"data": {"name": "red"}, "mark": {"type": "circle", "color": "#ff0000", "size": 50, "opacity": 1},
     "encoding": {
       "x": {"field": "pt", "type": "quantitative", "scale": {"domain": [0, 22.45], "nice": false, "zero": false}, "axis": null},
       "y": {"field": "r", "type": "quantitative", "scale": {"domain": [0, 3.7], "nice": false, "zero": false}, "axis": null}}},
    {"data": {"values": [{"t": "m"}]}, "mark": {"type": "rect", "color": "#c400c4"},
     "encoding": {"x": {"datum": 4.21, "type": "quantitative", "scale": {"domain": [0, 22.45], "nice": false, "zero": false}, "axis": null},
                  "x2": {"datum": 5.52},
                  "y": {"datum": 2.76, "type": "quantitative", "scale": {"domain": [0, 3.7], "nice": false, "zero": false}, "axis": null},
                  "y2": {"datum": 3.22}}},
    {"data": {"values": [{"t": "(ICEM)/(J/ψ→μ⁺μ⁻, |y|<0.4)"}]}, "mark": {"type": "text", "align": "left", "baseline": "middle", "fontSize": 25},
     "encoding": {"x": {"datum": 5.72, "type": "quantitative", "scale": {"domain": [0, 22.45], "nice": false, "zero": false}, "axis": null},
                  "y": {"datum": 3.03, "type": "quantitative", "scale": {"domain": [0, 3.7], "nice": false, "zero": false}, "axis": null},
                  "text": {"field": "t"}}},
    {"data": {"values": [{"t": "n"}]}, "mark": {"type": "rect", "color": "#14148c"},
     "encoding": {"x": {"datum": 4.21, "type": "quantitative", "scale": {"domain": [0, 22.45], "nice": false, "zero": false}, "axis": null},
                  "x2": {"datum": 5.52},
                  "y": {"datum": 2.18, "type": "quantitative", "scale": {"domain": [0, 3.7], "nice": false, "zero": false}, "axis": null},
                  "y2": {"datum": 2.61}}},
    {"data": {"values": [{"t": "(ICEM)/(J/ψ→e⁺e⁻, |y|<1)"}]}, "mark": {"type": "text", "align": "left", "baseline": "middle", "fontSize": 25},
     "encoding": {"x": {"datum": 5.72, "type": "quantitative", "scale": {"domain": [0, 22.45], "nice": false, "zero": false}, "axis": null},
                  "y": {"datum": 2.39, "type": "quantitative", "scale": {"domain": [0, 3.7], "nice": false, "zero": false}, "axis": null},
                  "text": {"field": "t"}}},
    {"data": {"values": [{"t": "(d)"}]}, "mark": {"type": "text", "align": "right", "baseline": "middle", "fontSize": 25},
     "encoding": {"x": {"datum": 22.2, "type": "quantitative", "scale": {"domain": [0, 22.45], "nice": false, "zero": false}, "axis": null},
                  "y": {"datum": 1.96, "type": "quantitative", "scale": {"domain": [0, 3.7], "nice": false, "zero": false}, "axis": null},
                  "text": {"field": "t"}}}
  ]
}
]
}
